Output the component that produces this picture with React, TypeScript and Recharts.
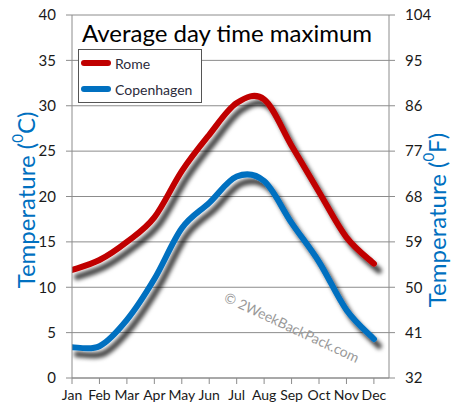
import React from 'react';
import {
  LineChart,
  Line,
  XAxis,
  YAxis,
  CartesianGrid,
  Legend,
} from 'recharts';

// ── Data ──────────────────────────────────────────────────────────────────────
const MONTHS = ['Jan', 'Feb', 'Mar', 'Apr', 'May', 'Jun', 'Jul', 'Aug', 'Sep', 'Oct', 'Nov', 'Dec'];
const ROME = [11.9, 13.0, 15.0, 17.7, 22.8, 26.8, 30.3, 30.7, 25.6, 20.5, 15.5, 12.6];
const COPENHAGEN = [3.4, 3.5, 6.4, 10.9, 16.5, 19.3, 22.2, 21.7, 17.1, 12.8, 7.5, 4.3];
const SERIES = ['Rome', 'Copenhagen'];
const C_TICKS = [0, 5, 10, 15, 20, 25, 30, 35, 40];
const F_TICKS = [32, 41, 50, 59, 68, 77, 86, 95, 104];

const FONT = 'Lato, "Open Sans", sans-serif';
const RED = '#c00000';
const BLUE = '#0070c0';
const GRID = '#8c8c8c';

const rows = MONTHS.map((m, i) => ({ idx: i, month: m, Rome: ROME[i], Copenhagen: COPENHAGEN[i] }));

// Excel-like smoothed line (Catmull-Rom through every point)
function excelSmooth(context: any) {
  let pts: number[][] = [];
  return {
    areaStart() {},
    areaEnd() {},
    lineStart() { pts = []; },
    lineEnd() {
      const n = pts.length;
      if (!n) return;
      context.moveTo(pts[0][0], pts[0][1]);
      for (let i = 0; i < n - 1; i++) {
        const p0 = pts[Math.max(i - 1, 0)];
        const p1 = pts[i];
        const p2 = pts[i + 1];
        const p3 = pts[Math.min(i + 2, n - 1)];
        context.bezierCurveTo(
          p1[0] + (p2[0] - p0[0]) / 6, p1[1] + (p2[1] - p0[1]) / 6,
          p2[0] - (p3[0] - p1[0]) / 6, p2[1] - (p3[1] - p1[1]) / 6,
          p2[0], p2[1],
        );
      }
    },
    point(x: number, y: number) { pts.push([+x, +y]); },
  };
}

// ── Rotated axis titles with a superscript "0" ────────────────────────────────
function AxisTitle({ x, y, unit }: { x: number; y: number; unit: string }) {
  return (
    <text
      x={x}
      y={y}
      transform={`rotate(-90 ${x} ${y})`}
      textAnchor="middle"
      dominantBaseline="central"
      fill={BLUE}
      fontFamily={FONT}
      fontSize={24}
    >
      Temperature (<tspan fontSize={15} dy={-8}>0</tspan><tspan dy={8}>{unit})</tspan>
    </text>
  );
}

function LegendBox({ payload }: any) {
  const items = SERIES.map(name => (payload ?? []).find((p: any) => p.value === name)).filter(Boolean);
  return (
    <div
      style={{
        width: 124,
        height: 54,
        boxSizing: 'border-box',
        border: '1px solid #555',
        background: '#fff',
        fontFamily: FONT,
        fontSize: 14,
        color: '#2b2b3b',
      }}
    >
      {items.map((p: any) => (
        <div key={p.value} style={{ display: 'flex', alignItems: 'center', height: 26 }}>
          <span style={{ width: 30, height: 6, borderRadius: 3, background: p.color, marginLeft: 2, marginRight: 4 }} />
          <span>{p.value}</span>
        </div>
      ))}
    </div>
  );
}

export default function App() {
  const tick = { fontSize: 15, fill: '#1a1a1a', fontFamily: FONT };
  return (
    <div style={{ position: 'absolute', left: 0, top: 0, width: 453, height: 420, background: '#fff' }}>
      <LineChart width={453} height={420} data={rows} margin={{ top: 15, right: 0, left: 0, bottom: 0 }}>
        <defs>
          <filter id="shadow" x="-10%" y="-10%" width="130%" height="130%">
            <feDropShadow dx={5} dy={7} stdDeviation={2} floodColor="#000" floodOpacity={0.75} />
          </filter>
        </defs>
        <CartesianGrid yAxisId="c" vertical={false} stroke={GRID} />
        <XAxis
          dataKey="idx"
          type="number"
          domain={[0, 11.55]}
          allowDataOverflow
          ticks={MONTHS.map((_, i) => i)}
          tickFormatter={(v: number) => MONTHS[v]}
          interval={0}
          height={42}
          tick={{ ...tick, fontSize: 14 }}
          tickSize={6}
          tickMargin={6}
          stroke={GRID}
        />
        <YAxis
          yAxisId="c"
          domain={[0, 40]}
          allowDataOverflow
          ticks={C_TICKS}
          width={72}
          tick={tick}
          tickSize={6}
          tickMargin={10}
          stroke={GRID}
          label={() => <AxisTitle x={25} y={200} unit="C" />}
        />
        <YAxis
          yAxisId="f"
          orientation="right"
          domain={[32, 104]}
          allowDataOverflow
          ticks={F_TICKS}
          width={64}
          tick={tick}
          tickSize={6}
          tickMargin={10}
          stroke={GRID}
          label={() => <AxisTitle x={436} y={220} unit="F" />}
        />
        <Legend
          layout="horizontal"
          verticalAlign="middle"
          align="center"
          content={<LegendBox />}
          wrapperStyle={{ left: 78, top: 49, width: 124 }}
        />
        <Line
          yAxisId="c"
          dataKey="Rome"
          type={excelSmooth as any}
          stroke={RED}
          strokeWidth={6}
          strokeLinecap="round"
          dot={false}
          activeDot={false}
          filter="url(#shadow)"
          isAnimationActive={false}
        />
        <Line
          yAxisId="c"
          dataKey="Copenhagen"
          type={excelSmooth as any}
          stroke={BLUE}
          strokeWidth={6}
          strokeLinecap="round"
          dot={false}
          activeDot={false}
          filter="url(#shadow)"
          isAnimationActive={false}
        />
        <text x={227} y={42} textAnchor="middle" fontFamily={FONT} fontSize={24} fill="#000">
          Average day time maximum
        </text>
        <text
          x={292}
          y={327}
          textAnchor="middle"
          dominantBaseline="central"
          transform="rotate(25 292 327)"
          fontFamily={FONT}
          fontSize={14}
          fill="#9a9a9a"
        >
          © 2WeekBackPack.com
        </text>
      </LineChart>
    </div>
  );
}
